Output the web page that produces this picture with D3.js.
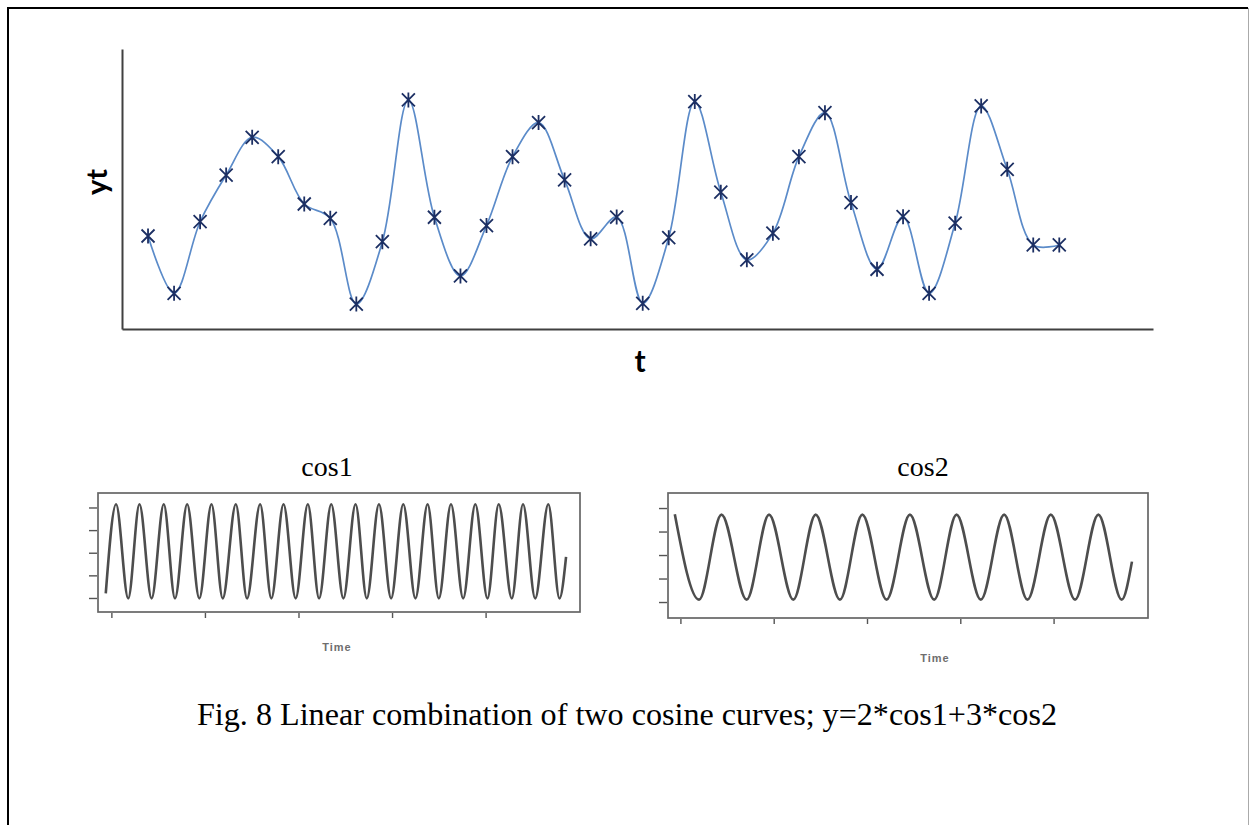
<!DOCTYPE html>
<html>
<head>
<meta charset="utf-8">
<script src="https://cdn.jsdelivr.net/npm/d3@7"></script>
<style>
body { margin: 0; background: #fff; }
svg { display: block; }
</style>
</head>
<body>
<div id="chart"></div>
<script>
// top plot: yt against t, no tick labels on either axis
var tIndex = [1, 2, 3, 4, 5, 6, 7, 8, 9, 10, 11, 12, 13, 14, 15, 16, 17, 18,
	19, 20, 21, 22, 23, 24, 25, 26, 27, 28, 29, 30, 31, 32, 33, 34, 35, 36];
var ytValues = [-1.67, -4.48, -0.97, 1.32, 3.17, 2.22, -0.10, -0.80, -5.01, -1.95,
	5.00, -0.75, -3.63, -1.16, 2.22, 3.89, 1.08, -1.81, -0.74, -4.97,
	-1.75, 4.92, 0.48, -2.84, -1.53, 2.22, 4.38, -0.03, -3.30, -0.72,
	-4.48, -1.04, 4.71, 1.60, -2.11, -2.11];

// small panels: start, turning points and end of each cosine
var cos1Time = [-6, 5, 18, 30, 43, 56, 68, 81, 94, 107, 119, 133, 145, 159, 171, 184,
	197, 210, 222, 235, 248, 261, 273, 286, 299, 312, 325, 338, 350, 363,
	376, 389, 402, 414, 428, 440, 453, 467, 479, 486];
var cos1Value = [-0.90, 1.07, -1.01, 1.07, -1.01, 1.07, -1.01, 1.07, -1.01, 1.07,
	-1.01, 1.07, -1.01, 1.07, -1.01, 1.07, -1.01, 1.07, -1.01, 1.07,
	-1.01, 1.07, -1.01, 1.07, -1.01, 1.07, -1.01, 1.07, -1.01, 1.07,
	-1.01, 1.07, -1.01, 1.07, -1.01, 1.07, -1.01, 1.07, -1.01, -0.09];

var cos2Time = [-6, 20, 44, 71, 95, 121, 145, 171, 195, 221, 246, 272, 296, 322,
	347, 372, 397, 423, 448, 473, 484];
var cos2Value = [0.87, -0.95, 0.86, -0.95, 0.86, -0.95, 0.86, -0.95, 0.86, -0.95,
	0.86, -0.95, 0.86, -0.95, 0.86, -0.95, 0.86, -0.95, 0.86, -0.95, -0.14];

var timeTicks = [0, 100, 200, 300, 400];
var levelTicks = [-1, -0.5, 0, 0.5, 1];

var caption = "Fig. 8 Linear combination of two cosine curves; y=2*cos1+3*cos2";

var width = 1249,
	height = 825;

var svg = d3.select("#chart").append("svg")
	.attr("width", width)
	.attr("height", height);

// page frame (no bottom edge, the figure runs off the page)
svg.append("path")
	.attr("d", "M8,825V8H1248")
	.attr("fill", "none")
	.attr("stroke", "#000")
	.attr("stroke-width", 2);
svg.append("path")
	.attr("d", "M1248.5,8V825")
	.attr("stroke", "#aaa")
	.attr("stroke-width", 1);

/*
 * top chart
 */
var x = d3.scaleLinear().domain([0, 39.6]).range([122, 1153]);
var y = d3.scaleLinear().domain([-6.23, 7.5]).range([329, 49]);

var points = tIndex.map(function(t, i) {
	return { t: t, v: ytValues[i] };
});

svg.append("g")
	.attr("transform", "translate(122,0)")
	.call(d3.axisLeft(y).tickValues([]).tickSizeOuter(0))
	.select(".domain")
	.attr("stroke", "#404040")
	.attr("stroke-width", 2);

svg.append("g")
	.attr("transform", "translate(0,329)")
	.call(d3.axisBottom(x).tickValues([]).tickSizeOuter(0))
	.select(".domain")
	.attr("stroke", "#404040")
	.attr("stroke-width", 2);

svg.append("path")
	.datum(points)
	.attr("fill", "none")
	.attr("stroke", "#5b8bc9")
	.attr("stroke-width", 1.7)
	.attr("d", d3.line()
		.curve(d3.curveCatmullRom.alpha(0.5))
		.x(function(d) { return x(d.t); })
		.y(function(d) { return y(d.v); }));

// star markers: vertical bar plus a cross
svg.append("g")
	.attr("fill", "none")
	.attr("stroke", "#1c2f63")
	.attr("stroke-width", 1.8)
	.selectAll("path")
	.data(points)
	.enter().append("path")
	.attr("transform", function(d) {
		return "translate(" + x(d.t) + "," + y(d.v) + ")";
	})
	.attr("d", "M0,-7.5V7.5M-6.5,-6.5L6.5,6.5M-6.5,6.5L6.5,-6.5");

svg.append("text")
	.attr("transform", "translate(107,182) rotate(-90)")
	.attr("text-anchor", "middle")
	.attr("font-family", "Lato, 'Open Sans', sans-serif")
	.attr("font-weight", "bold")
	.attr("font-size", 29)
	.text("yt");

svg.append("text")
	.attr("x", 640)
	.attr("y", 372)
	.attr("text-anchor", "middle")
	.attr("font-family", "Lato, 'Open Sans', sans-serif")
	.attr("font-weight", "bold")
	.attr("font-size", 30)
	.text("t");

/*
 * small cosine panels
 */
function drawPanel(opt) {
	var px = d3.scaleLinear().domain(opt.tDomain).range([opt.left, opt.right]);
	var py = d3.scaleLinear().domain(opt.vDomain).range([opt.bottom, opt.top]);

	var g = svg.append("g");

	g.append("text")
		.attr("x", opt.titleX)
		.attr("y", 476)
		.attr("text-anchor", "middle")
		.attr("font-family", "'Liberation Serif', 'Times New Roman', serif")
		.attr("font-size", 28)
		.text(opt.title);

	g.append("rect")
		.attr("x", opt.left)
		.attr("y", opt.top)
		.attr("width", opt.right - opt.left)
		.attr("height", opt.bottom - opt.top)
		.attr("fill", "none")
		.attr("stroke", "#666")
		.attr("stroke-width", 1.7);

	var yAxis = g.append("g")
		.attr("transform", "translate(" + (opt.left - 1) + ",0)")
		.call(d3.axisLeft(py).tickValues(levelTicks).tickFormat("").tickSize(8).tickSizeOuter(0));
	yAxis.select(".domain").remove();
	yAxis.selectAll(".tick line").attr("stroke", "#555").attr("stroke-width", 1.4);

	var xAxis = g.append("g")
		.attr("transform", "translate(0," + (opt.bottom + 1) + ")")
		.call(d3.axisBottom(px).tickValues(timeTicks).tickFormat("").tickSize(5).tickSizeOuter(0));
	xAxis.select(".domain").remove();
	xAxis.selectAll(".tick line").attr("stroke", "#555").attr("stroke-width", 1.4);

	var data = opt.time.map(function(t, i) {
		return { t: t, v: opt.value[i] };
	});

	g.append("path")
		.datum(data)
		.attr("fill", "none")
		.attr("stroke", "#2e2e2e")
		.attr("stroke-width", 2.6)
		.attr("stroke-opacity", 0.85)
		.attr("d", d3.line()
			.curve(d3.curveMonotoneX)
			.x(function(d) { return px(d.t); })
			.y(function(d) { return py(d.v); }));

	g.append("text")
		.attr("x", opt.labelX)
		.attr("y", opt.labelY)
		.attr("text-anchor", "middle")
		.attr("font-family", "'Liberation Sans', Arial, sans-serif")
		.attr("font-weight", "bold")
		.attr("font-size", 11)
		.attr("letter-spacing", 1)
		.attr("fill", "#6e6e6e")
		.text("Time");
}

drawPanel({
	title: "cos1", titleX: 327,
	left: 98, right: 580, top: 493, bottom: 612,
	tDomain: [-14.3, 500.9], vDomain: [-1.31, 1.32],
	time: cos1Time, value: cos1Value,
	labelX: 337, labelY: 651
});

drawPanel({
	title: "cos2", titleX: 923,
	left: 668, right: 1148, top: 493, bottom: 618,
	tDomain: [-13.3, 501.2], vDomain: [-1.34, 1.32],
	time: cos2Time, value: cos2Value,
	labelX: 935, labelY: 662
});

svg.append("text")
	.attr("x", 197)
	.attr("y", 725)
	.attr("font-family", "'Liberation Serif', 'Times New Roman', serif")
	.attr("font-size", 32)
	.attr("textLength", 860)
	.attr("lengthAdjust", "spacingAndGlyphs")
	.text(caption);
</script>
</body>
</html>
